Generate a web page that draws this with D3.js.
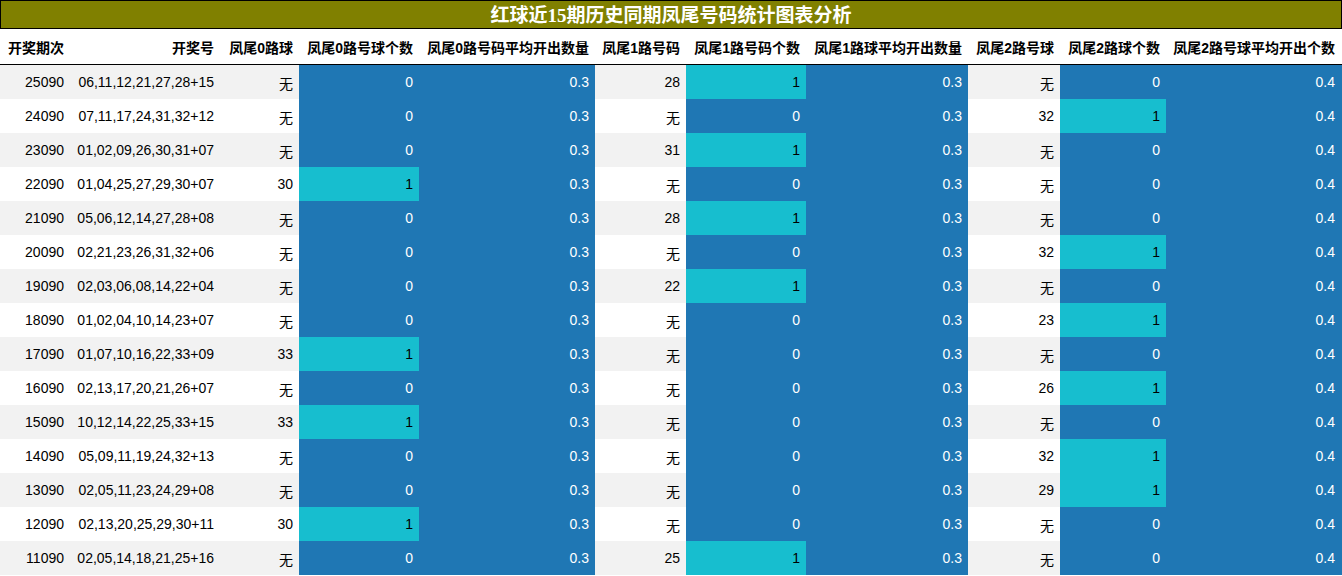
<!DOCTYPE html>
<html><head><meta charset="utf-8">
<script src="https://cdn.jsdelivr.net/npm/d3@7"></script>
<style>body{margin:0;background:#fff}</style>
</head><body><div id="chart"></div>
<script>
const title = "红球近15期历史同期凤尾号码统计图表分析";
const headers = ["开奖期次","开奖号","凤尾0路球","凤尾0路号球个数","凤尾0路号码平均开出数量","凤尾1路号码","凤尾1路号码个数","凤尾1路球平均开出数量","凤尾2路号球","凤尾2路球个数","凤尾2路号球平均开出个数"];
const issues = ["25090","24090","23090","22090","21090","20090","19090","18090","17090","16090","15090","14090","13090","12090","11090"];
const draws = ["06,11,12,21,27,28+15","07,11,17,24,31,32+12","01,02,09,26,30,31+07","01,04,25,27,29,30+07","05,06,12,14,27,28+08","02,21,23,26,31,32+06","02,03,06,08,14,22+04","01,02,04,10,14,23+07","01,07,10,16,22,33+09","02,13,17,20,21,26+07","10,12,14,22,25,33+15","05,09,11,19,24,32+13","02,05,11,23,24,29+08","02,13,20,25,29,30+11","02,05,14,18,21,25+16"];
const tail0 = ["无","无","无","30","无","无","无","无","33","无","33","无","无","30","无"];
const tail1 = ["28","无","31","无","28","无","22","无","无","无","无","无","无","无","25"];
const tail2 = ["无","32","无","无","无","32","无","23","无","26","无","32","29","无","无"];
const avg = ["0.3","0.3","0.4"];

const edges = [0,70,220,299,419,595,686,806,968,1060,1166,1341];
const W = 1342, H = 576, rowH = 34, tableTop = 65;
const svg = d3.select("#chart").append("svg").attr("width", W).attr("height", H)
  .style("font-family", "'Liberation Sans', 'Noto Sans CJK SC', sans-serif");

// title bar
svg.append("rect").attr("x",0.5).attr("y",0.5).attr("width",1341).attr("height",28)
  .attr("fill","#808000").attr("stroke","#000");
svg.append("text").attr("x",671).attr("y",22).attr("text-anchor","middle")
  .attr("fill","#fff").attr("font-size",19).attr("font-weight","bold")
  .style("font-family","'Liberation Serif','Noto Sans CJK SC',serif").text(title);

// headers
svg.selectAll("text.h").data(headers).join("text").attr("class","h")
  .attr("x",(d,i)=> i===0 ? 8 : edges[i+1]-6).attr("y",53)
  .attr("text-anchor",(d,i)=> i===0 ? "start" : "end")
  .attr("font-size",14).attr("font-weight","bold").attr("fill","#000").text(d=>d);

const y = d3.scaleBand().domain(issues).range([tableTop, tableTop + rowH*issues.length]);
const cnt = v => v === "无" ? 0 : 1;
const rows = issues.map((d,i)=>[
  d, draws[i], tail0[i], cnt(tail0[i]), avg[0], tail1[i], cnt(tail1[i]), avg[1], tail2[i], cnt(tail2[i]), avg[2]
]);
const colored = new Set([3,4,6,7,9,10]);

rows.forEach((r,ri)=>{
  const g = svg.append("g").attr("transform",`translate(0,${y(issues[ri])})`);
  r.forEach((v,ci)=>{
    let fill = ri%2===0 ? "#f2f2f2" : "#fff", tc = "#000";
    if (colored.has(ci)) {
      fill = ([3,6,9].includes(ci) && v===1) ? "#17becf" : "#1f77b4";
      tc = v===1 ? "#000" : "#fff";
      if ([4,7,10].includes(ci)) tc = "#fff";
    }
    g.append("rect").attr("x",edges[ci]).attr("width",edges[ci+1]-edges[ci]+(ci===10?1:0))
      .attr("height",rowH).attr("fill",fill);
    g.append("text").attr("x",edges[ci+1]-6).attr("y",rowH/2+5)
      .attr("text-anchor","end").attr("font-size",14).attr("fill",tc)
      .attr("dy", v==="无" ? 2 : 0).text(v);
  });
});
svg.append("line").attr("x1",0).attr("x2",W).attr("y1",64.5).attr("y2",64.5).attr("stroke","#000");
</script></body></html>
